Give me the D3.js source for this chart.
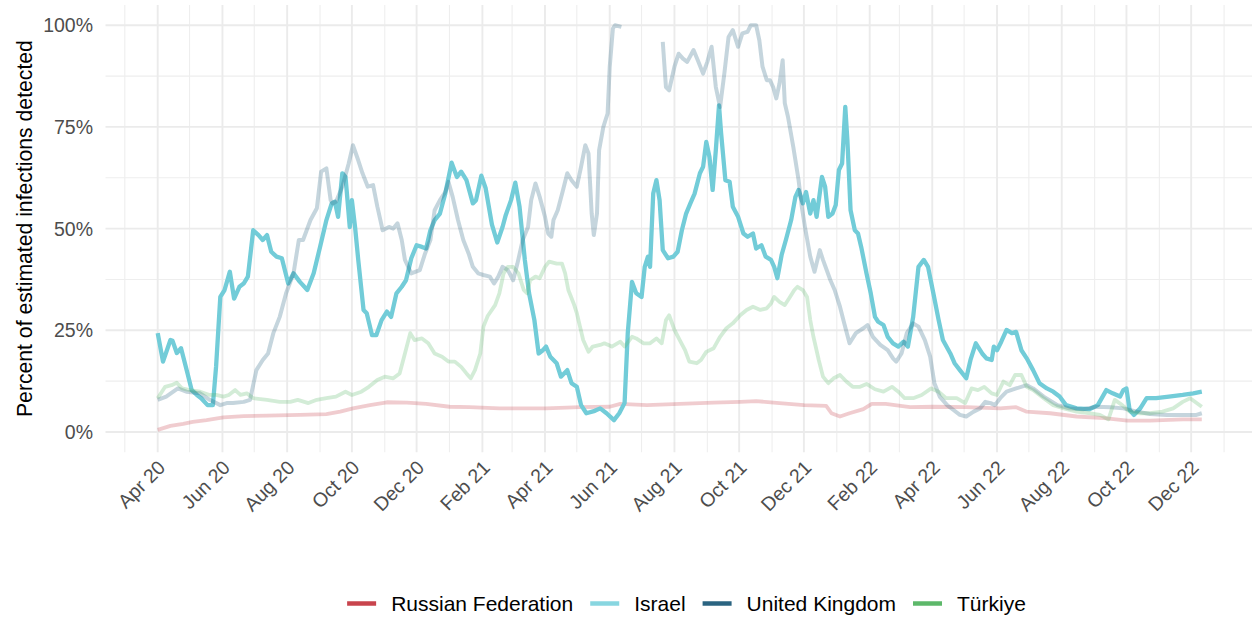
<!DOCTYPE html>
<html>
<head>
<meta charset="utf-8">
<script src="https://cdn.jsdelivr.net/npm/d3@7"></script>
<style>
  body { margin: 0; background: #fff; }
  svg { display: block; font-family: "Liberation Sans", Arial, Helvetica, sans-serif; }
</style>
</head>
<body>
<svg width="1252" height="617"></svg>
<script>
// percent of estimated infections detected
var russia = [
  ["2020-04-01",0.5],["2020-04-13",1.5],["2020-04-25",2],["2020-05-04",2.5],["2020-05-17",2.9],["2020-06-02",3.6],
  ["2020-06-21",3.9],["2020-07-13",4],["2020-08-13",4.2],["2020-09-07",4.4],["2020-09-20",5],["2020-10-02",5.8],
  ["2020-10-18",6.6],["2020-11-03",7.3],["2020-11-22",7.2],["2020-12-10",6.9],["2021-01-01",6.2],["2021-01-20",6.1],
  ["2021-02-17",5.8],["2021-03-03",5.8],["2021-04-02",5.8],["2021-05-04",6.1],["2021-06-01",6.2],["2021-06-11",6.9],
  ["2021-07-06",6.6],["2021-08-06",6.9],["2021-09-07",7.2],["2021-10-02",7.4],["2021-10-17",7.6],["2021-11-08",7.1],
  ["2021-12-01",6.6],["2021-12-22",6.4],["2021-12-27",4.6],["2022-01-04",3.8],["2022-01-13",4.6],["2022-01-26",5.6],
  ["2022-02-03",6.9],["2022-02-16",6.9],["2022-03-11",6.1],["2022-04-02",6.2],["2022-05-03",6.1],["2022-06-04",5.8],
  ["2022-06-19",6.1],["2022-06-29",5],["2022-07-21",4.6],["2022-08-15",3.8],["2022-09-10",3.4],["2022-10-02",2.8],
  ["2022-10-23",2.8],["2022-11-23",3.1],["2022-12-11",3.1]
];

var israel = [
  ["2020-04-01",24.3],["2020-04-06",17.3],["2020-04-13",22.6],["2020-04-15",22.4],["2020-04-19",19.4],["2020-04-23",20.6],
  ["2020-04-29",14.5],["2020-05-03",10.3],["2020-05-08",9.1],["2020-05-12",8.3],["2020-05-18",6.6],["2020-05-23",6.6],
  ["2020-05-26",16],["2020-05-30",33.2],["2020-06-03",34.9],["2020-06-08",39.4],["2020-06-12",32.8],["2020-06-17",35.7],
  ["2020-06-21",36.5],["2020-06-25",38.2],["2020-06-30",49.6],["2020-07-05",48.4],["2020-07-09",47.2],["2020-07-13",48.4],
  ["2020-07-17",44.3],["2020-07-22",43.1],["2020-07-27",42.7],["2020-08-02",36.5],["2020-08-07",39],["2020-08-13",36.9],
  ["2020-08-20",34.9],["2020-08-26",39],["2020-09-01",45.5],["2020-09-07",52.1],["2020-09-12",56.2],["2020-09-15",56.6],
  ["2020-09-18",52.9],["2020-09-22",63.6],["2020-09-25",62.7],["2020-09-29",50.4],["2020-10-01",57],["2020-10-04",50.4],
  ["2020-10-07",42.3],["2020-10-12",30],["2020-10-15",29.2],["2020-10-20",23.8],["2020-10-24",23.8],["2020-10-29",27.5],
  ["2020-11-03",29.6],["2020-11-07",28.3],["2020-11-12",34.1],["2020-11-17",35.7],["2020-11-21",37.3],["2020-11-26",42.7],
  ["2020-12-01",45.9],["2020-12-06",45.5],["2020-12-10",45.1],["2020-12-14",49.6],["2020-12-18",52.1],["2020-12-23",53.7],
  ["2020-12-28",58.6],["2021-01-03",66.2],["2021-01-08",62.7],["2021-01-12",64],["2021-01-17",61.9],["2021-01-23",56.2],
  ["2021-01-26",57],["2021-01-31",63],["2021-02-04",60],["2021-02-10",51],["2021-02-15",46.6],["2021-02-20",50.4],
  ["2021-02-23",53.3],["2021-02-28",57],["2021-03-04",61.3],["2021-03-08",55.4],["2021-03-13",42.3],["2021-03-17",34.1],
  ["2021-03-22",27.5],["2021-03-26",19.3],["2021-03-30",20.1],["2021-04-02",21],["2021-04-06",18.5],["2021-04-12",16.9],
  ["2021-04-16",13.6],["2021-04-22",15.2],["2021-04-26",12],["2021-05-01",11.1],["2021-05-05",6.6],["2021-05-10",4.6],
  ["2021-05-18",5.2],["2021-05-23",5.8],["2021-05-29",4.6],["2021-06-05",2.9],["2021-06-10",4.6],["2021-06-15",7.1],
  ["2021-06-18",24.3],["2021-06-22",36.9],["2021-06-26",34.1],["2021-07-01",33.2],["2021-07-04",40.6],["2021-07-07",43.1],
  ["2021-07-09",40.6],["2021-07-12",58.6],["2021-07-15",61.9],["2021-07-18",57],["2021-07-21",44.7],["2021-07-26",42.7],
  ["2021-07-31",43.1],["2021-08-04",44.3],["2021-08-08",49.6],["2021-08-12",53.7],["2021-08-16",56.2],["2021-08-20",58.6],
  ["2021-08-25",63.6],["2021-08-28",65.2],["2021-08-31",71.3],["2021-09-03",67.6],["2021-09-06",59.5],["2021-09-09",69.3],
  ["2021-09-12",80.3],["2021-09-14",73.4],["2021-09-18",61.9],["2021-09-22",61.5],["2021-09-25",55.4],["2021-09-30",52.9],
  ["2021-10-05",48.8],["2021-10-09",48],["2021-10-14",48.8],["2021-10-17",45.1],["2021-10-22",45.9],["2021-10-26",43.1],
  ["2021-10-31",42.3],["2021-11-03",40.6],["2021-11-06",37.8],["2021-11-10",43.5],["2021-11-14",47.2],["2021-11-19",52.1],
  ["2021-11-23",57.8],["2021-11-26",59.5],["2021-11-30",56.2],["2021-12-03",59],["2021-12-07",53.7],["2021-12-10",57],
  ["2021-12-13",52.9],["2021-12-18",62.7],["2021-12-21",60.3],["2021-12-24",52.9],["2021-12-28",53.7],["2021-12-31",55.8],
  ["2022-01-03",64.4],["2022-01-06",66],["2022-01-09",79.9],["2022-01-11",71.7],["2022-01-14",54.5],["2022-01-18",49.6],
  ["2022-01-21",48.8],["2022-01-24",45.5],["2022-01-29",39],["2022-02-02",34.1],["2022-02-06",28.3],["2022-02-09",27.1],
  ["2022-02-14",26.3],["2022-02-18",23.4],["2022-02-23",21.8],["2022-02-28",21],["2022-03-05",22.2],["2022-03-09",21],
  ["2022-03-14",28.3],["2022-03-19",40.6],["2022-03-24",42.3],["2022-03-28",40.6],["2022-04-02",34.1],["2022-04-07",27.5],
  ["2022-04-11",22.6],["2022-04-18",19.3],["2022-04-22",16.9],["2022-04-27",15.2],["2022-05-03",13.2],["2022-05-07",17.7],
  ["2022-05-12",21.8],["2022-05-18",19.3],["2022-05-22",18.1],["2022-05-27",17.7],["2022-05-29",21],["2022-06-01",20.1],
  ["2022-06-05",22.2],["2022-06-10",25.1],["2022-06-15",24.3],["2022-06-19",24.6],["2022-06-24",20.1],["2022-06-29",18.1],
  ["2022-07-05",15.2],["2022-07-11",12],["2022-07-18",10.7],["2022-07-24",9.9],["2022-07-30",8.7],["2022-08-05",6.6],
  ["2022-08-15",5.8],["2022-08-27",5.6],["2022-09-04",6.6],["2022-09-12",10.3],["2022-09-18",9.5],["2022-09-25",8.7],
  ["2022-09-28",10.3],["2022-10-01",10.7],["2022-10-04",5.4],["2022-10-08",4.2],["2022-10-14",5.8],["2022-10-20",8.3],
  ["2022-10-29",8.3],["2022-11-10",8.7],["2022-11-23",9.1],["2022-12-03",9.5],["2022-12-11",9.9]
];

// null = values above 100% dropped from the chart
var uk = [
  ["2020-04-01",7.9],["2020-04-09",8.7],["2020-04-20",10.7],["2020-04-28",9.9],["2020-05-11",9.5],["2020-05-20",7.9],
  ["2020-05-30",6.6],["2020-06-05",7.1],["2020-06-11",7.1],["2020-06-21",7.4],["2020-06-27",7.9],["2020-07-03",15.2],
  ["2020-07-09",17.7],["2020-07-14",19.3],["2020-07-19",24.3],["2020-07-25",28.3],["2020-07-31",34.1],["2020-08-07",39],
  ["2020-08-12",47.2],["2020-08-16",47.2],["2020-08-23",52.1],["2020-08-29",55],["2020-09-02",64],["2020-09-07",64.8],
  ["2020-09-11",57],["2020-09-13",56.2],["2020-09-16",56.6],["2020-09-22",60.3],["2020-09-28",66],["2020-10-02",70.5],
  ["2020-10-07",66.8],["2020-10-11",63.6],["2020-10-16",60.3],["2020-10-21",60.7],["2020-10-25",55.4],["2020-10-30",49.6],
  ["2020-11-05",50.4],["2020-11-09",50],["2020-11-13",51.3],["2020-11-17",47.2],["2020-11-20",42.3],["2020-11-26",39],
  ["2020-12-04",39.8],["2020-12-09",43.9],["2020-12-14",47.2],["2020-12-18",54.5],["2020-12-23",57],["2020-12-28",59],
  ["2020-12-31",61.5],["2021-01-04",57.8],["2021-01-09",52.1],["2021-01-14",47.2],["2021-01-19",43.9],["2021-01-23",40.6],
  ["2021-01-28",39],["2021-02-02",38.6],["2021-02-08",38.2],["2021-02-12",36.5],["2021-02-16",38.2],["2021-02-20",40.6],
  ["2021-02-25",39.8],["2021-03-02",37.3],["2021-03-06",41.4],["2021-03-11",47.2],["2021-03-16",50.4],["2021-03-19",57],
  ["2021-03-23",61.1],["2021-03-27",57.8],["2021-04-01",52.9],["2021-04-04",48.8],["2021-04-07",48],["2021-04-09",52.1],
  ["2021-04-13",54.5],["2021-04-18",59.5],["2021-04-22",63.6],["2021-04-26",61.9],["2021-05-01",60.3],["2021-05-05",65.2],
  ["2021-05-09",70.5],["2021-05-12",68.5],["2021-05-15",53.7],["2021-05-17",48.4],["2021-05-20",53.7],["2021-05-22",69.3],
  ["2021-05-26",75],["2021-05-30",78.3],["2021-06-01",89.8],["2021-06-04",99.2],["2021-06-06",100],["2021-06-12",99.6],
  ["2021-06-13",null],["2021-07-21",95.9],["2021-07-24",84.8],["2021-07-27",84],["2021-08-01",89.8],["2021-08-05",93],
  ["2021-08-09",91.8],["2021-08-13",91],["2021-08-19",93.9],["2021-08-23",91.4],["2021-08-28",88.1],["2021-09-01",91],
  ["2021-09-05",94.7],["2021-09-09",84.8],["2021-09-13",79.9],["2021-09-17",88.1],["2021-09-21",97.1],["2021-09-25",98.8],
  ["2021-09-30",94.7],["2021-10-04",98],["2021-10-09",98.4],["2021-10-12",100],["2021-10-17",100],["2021-10-20",96.3],
  ["2021-10-23",89.8],["2021-10-27",86.5],["2021-10-30",86.5],["2021-11-02",84.8],["2021-11-05",82],["2021-11-08",85.7],
  ["2021-11-11",91.4],["2021-11-13",80.8],["2021-11-16",77.5],["2021-11-21",70.1],["2021-11-26",61.9],["2021-11-29",55.4],
  ["2021-12-02",50.4],["2021-12-07",43.1],["2021-12-11",39.4],["2021-12-16",44.7],["2021-12-19",42.3],["2021-12-26",37.3],
  ["2021-12-30",34.9],["2022-01-04",30.8],["2022-01-08",26.7],["2022-01-13",21.8],["2022-01-19",24.3],["2022-01-26",25.5],
  ["2022-01-30",26.3],["2022-02-04",23.4],["2022-02-11",21.4],["2022-02-18",20.1],["2022-02-23",18.1],["2022-02-26",17.3],
  ["2022-03-03",19.3],["2022-03-08",24.3],["2022-03-14",26.7],["2022-03-19",25.9],["2022-03-25",22.6],["2022-03-30",18.5],
  ["2022-04-03",12],["2022-04-08",8.7],["2022-04-15",6.6],["2022-04-21",5.4],["2022-04-27",4.2],["2022-05-03",3.8],
  ["2022-05-10",5],["2022-05-16",5.8],["2022-05-21",7.4],["2022-05-26",7.1],["2022-05-30",6.6],["2022-06-04",8.3],
  ["2022-06-10",9.9],["2022-06-19",10.7],["2022-06-29",11.5],["2022-07-05",10.7],["2022-07-15",8.7],["2022-07-28",6.6],
  ["2022-08-08",5.8],["2022-08-21",5.6],["2022-09-03",6.2],["2022-09-16",6.1],["2022-09-28",5.8],["2022-10-11",5],
  ["2022-10-23",4.4],["2022-11-08",4.2],["2022-11-23",4.2],["2022-12-06",4.2],["2022-12-11",4.6]
];

var turkey = [
  ["2020-04-01",8.3],["2020-04-08",11.1],["2020-04-14",11.5],["2020-04-19",12.1],["2020-04-24",10.7],["2020-05-01",10.3],
  ["2020-05-11",9.9],["2020-05-20",9.1],["2020-05-26",9.1],["2020-06-02",8.7],["2020-06-07",9.1],["2020-06-13",10.3],
  ["2020-06-18",9.1],["2020-06-24",9.5],["2020-06-30",8.3],["2020-07-13",7.9],["2020-07-25",7.4],["2020-08-04",7.4],
  ["2020-08-11",7.9],["2020-08-21",7.1],["2020-08-29",7.9],["2020-09-07",8.3],["2020-09-16",8.7],["2020-09-25",9.9],
  ["2020-10-01",9.1],["2020-10-10",9.9],["2020-10-17",11.1],["2020-10-25",12.8],["2020-11-01",13.6],["2020-11-09",13.2],
  ["2020-11-15",14.4],["2020-11-20",19.3],["2020-11-25",24.3],["2020-11-29",22.6],["2020-12-06",23],["2020-12-12",21.8],
  ["2020-12-18",19.3],["2020-12-25",18.5],["2020-12-31",17.3],["2021-01-06",17.3],["2021-01-12",16],["2021-01-17",14.4],
  ["2021-01-21",13.2],["2021-01-25",15.2],["2021-01-30",19.3],["2021-02-02",25.9],["2021-02-06",28.5],["2021-02-13",31.2],
  ["2021-02-17",34.1],["2021-02-21",39],["2021-02-25",40.6],["2021-03-02",40.6],["2021-03-07",39],["2021-03-12",34.9],
  ["2021-03-15",34.1],["2021-03-18",37.3],["2021-03-23",38.2],["2021-03-27",37.8],["2021-04-01",40.6],["2021-04-05",41.9],
  ["2021-04-12",41.4],["2021-04-17",41.4],["2021-04-20",39],["2021-04-23",34.9],["2021-04-28",31.6],["2021-05-01",29.2],
  ["2021-05-04",25.9],["2021-05-07",22.6],["2021-05-12",19.7],["2021-05-16",21],["2021-05-23",21.4],["2021-05-27",21.8],
  ["2021-06-03",21],["2021-06-11",22.2],["2021-06-15",21],["2021-06-22",23.4],["2021-06-26",23],["2021-07-03",21.8],
  ["2021-07-09",21.8],["2021-07-15",23],["2021-07-20",21.8],["2021-07-24",27.5],["2021-07-27",28.7],["2021-08-01",25.1],
  ["2021-08-06",22.6],["2021-08-11",20.1],["2021-08-15",17.3],["2021-08-22",16.9],["2021-08-26",17.7],["2021-08-31",19.7],
  ["2021-09-07",20.6],["2021-09-13",23.4],["2021-09-19",25.5],["2021-09-25",26.7],["2021-10-02",28.7],["2021-10-08",30],
  ["2021-10-14",30.8],["2021-10-21",30],["2021-10-27",30.4],["2021-10-31",31.6],["2021-11-03",33.2],["2021-11-08",32],
  ["2021-11-13",31.2],["2021-11-17",32.8],["2021-11-22",34.9],["2021-11-25",35.7],["2021-11-30",34.9],["2021-12-04",33.2],
  ["2021-12-07",27.5],["2021-12-10",23.4],["2021-12-15",17.7],["2021-12-19",13.6],["2021-12-24",12],["2021-12-29",13.2],
  ["2022-01-04",14],["2022-01-10",12.4],["2022-01-16",11.1],["2022-01-23",11.1],["2022-01-29",11.8],["2022-02-06",10.5],
  ["2022-02-14",9.9],["2022-02-22",11.1],["2022-02-28",9.9],["2022-03-06",8.3],["2022-03-14",8.3],["2022-03-22",9.1],
  ["2022-03-31",10.7],["2022-04-07",9.9],["2022-04-14",8.3],["2022-04-24",8.3],["2022-05-02",7.1],["2022-05-08",10.7],
  ["2022-05-14",10.3],["2022-05-20",11.1],["2022-05-27",9.5],["2022-06-01",9.1],["2022-06-07",12.4],["2022-06-13",11.5],
  ["2022-06-18",14],["2022-06-24",14],["2022-06-29",11.1],["2022-07-05",10.3],["2022-07-15",8.3],["2022-07-24",6.6],
  ["2022-08-03",5.8],["2022-08-15",5],["2022-08-28",4.6],["2022-09-06",4.2],["2022-09-14",3.1],["2022-09-20",7.9],
  ["2022-09-27",6.6],["2022-10-04",5],["2022-10-14",4.6],["2022-10-23",4.6],["2022-11-04",5],["2022-11-14",5.8],
  ["2022-11-23",7.4],["2022-11-30",8.3],["2022-12-11",6.2]
];

var seriesNames = ["Russian Federation", "Israel", "United Kingdom", "Türkiye"];
var seriesData = [russia, israel, uk, turkey];
var keyColors = ["#C8444D", "#88D6E0", "#2B6481", "#5DB86A"];

var yTicks = [0, 25, 50, 75, 100];
var yMinor = [12.5, 37.5, 62.5, 87.5];
var xTicks = ["2020-04-01","2020-06-01","2020-08-01","2020-10-01","2020-12-01","2021-02-01","2021-04-01",
              "2021-06-01","2021-08-01","2021-10-01","2021-12-01","2022-02-01","2022-04-01","2022-06-01",
              "2022-08-01","2022-10-01","2022-12-01"];

var svg = d3.select("svg"),
    width = +svg.attr("width"),
    height = +svg.attr("height");

var parse = d3.utcParse("%Y-%m-%d");
var fmtX = d3.utcFormat("%b %y");

var panel = {left: 105.5, right: 1254, top: 4.9, bottom: 452.3};

var d0 = parse("2020-04-01"), d1 = parse("2022-12-11"),
    span = d1 - d0;

var x = d3.scaleUtc()
    .domain([new Date(+d0 - 0.05 * span), new Date(+d1 + 0.05 * span)])
    .range([panel.left, panel.right]);

var y = d3.scaleLinear()
    .domain([-5, 105])
    .range([panel.bottom, panel.top]);

// grid
var grid = svg.append("g");
var months = d3.utcMonth.range(x.domain()[0], x.domain()[1]);

grid.selectAll(".vminor")
  .data(months.filter(function(d) { return d.getUTCMonth() % 2 === 0; }))
  .enter().append("line")
    .attr("x1", function(d) { return x(d); }).attr("x2", function(d) { return x(d); })
    .attr("y1", panel.top).attr("y2", panel.bottom)
    .attr("stroke", "#EEEEEE").attr("stroke-width", 1.1);

grid.selectAll(".hminor")
  .data(yMinor)
  .enter().append("line")
    .attr("x1", panel.left).attr("x2", panel.right)
    .attr("y1", function(d) { return y(d); }).attr("y2", function(d) { return y(d); })
    .attr("stroke", "#EEEEEE").attr("stroke-width", 1.1);

grid.selectAll(".vmajor")
  .data(xTicks)
  .enter().append("line")
    .attr("x1", function(d) { return x(parse(d)); }).attr("x2", function(d) { return x(parse(d)); })
    .attr("y1", panel.top).attr("y2", panel.bottom)
    .attr("stroke", "#EBEBEB").attr("stroke-width", 1.9);

grid.selectAll(".hmajor")
  .data(yTicks)
  .enter().append("line")
    .attr("x1", panel.left).attr("x2", panel.right)
    .attr("y1", function(d) { return y(d); }).attr("y2", function(d) { return y(d); })
    .attr("stroke", "#EBEBEB").attr("stroke-width", 1.9);

// lines
svg.append("clipPath").attr("id", "clip")
  .append("rect")
    .attr("x", panel.left).attr("y", panel.top)
    .attr("width", panel.right - panel.left).attr("height", panel.bottom - panel.top);

var line = d3.line()
    .defined(function(d) { return d[1] !== null; })
    .x(function(d) { return x(parse(d[0])); })
    .y(function(d) { return y(d[1]); });

var lineStyle = [
  {color: "#C8434C", opacity: 0.27, width: 3.8},
  {color: "#72CCD8", opacity: 1, width: 4.3},
  {color: "#2A6481", opacity: 0.27, width: 4},
  {color: "#5DB86A", opacity: 0.27, width: 3.8}
];

svg.append("g").attr("clip-path", "url(#clip)")
  .selectAll("path")
  .data(seriesData)
  .enter().append("path")
    .attr("d", line)
    .attr("fill", "none")
    .attr("stroke", function(d, i) { return lineStyle[i].color; })
    .attr("stroke-opacity", function(d, i) { return lineStyle[i].opacity; })
    .attr("stroke-width", function(d, i) { return lineStyle[i].width; })
    .attr("stroke-linejoin", "round");

// axes
svg.append("g").selectAll("text")
  .data(yTicks)
  .enter().append("text")
    .attr("x", 93)
    .attr("y", function(d) { return y(d); })
    .attr("dy", "0.36em")
    .attr("text-anchor", "end")
    .attr("fill", "#4D4D4D")
    .style("font-size", "19.5px")
    .text(function(d) { return d + "%"; });

svg.append("g").selectAll("text")
  .data(xTicks)
  .enter().append("text")
    .attr("transform", function(d) { return "translate(" + (x(parse(d)) - 1) + ",459) rotate(-45)"; })
    .attr("dy", "0.71em")
    .attr("text-anchor", "end")
    .attr("fill", "#4D4D4D")
    .style("font-size", "19.5px")
    .text(function(d) { return fmtX(parse(d)); });

svg.append("text")
    .attr("transform", "translate(31.5," + ((panel.top + panel.bottom) / 2) + ") rotate(-90)")
    .attr("text-anchor", "middle")
    .attr("fill", "#000")
    .style("font-size", "21.2px")
    .text("Percent of estimated infections detected");

// legend
var legend = svg.append("g");
var lx = 0;
seriesNames.forEach(function(name, i) {
  var g = legend.append("g");
  g.append("line")
    .attr("x1", 0).attr("x2", 29).attr("y1", 0).attr("y2", 0)
    .attr("stroke", keyColors[i]).attr("stroke-width", 4.5);
  var t = g.append("text")
    .attr("x", 44).attr("dy", "0.36em")
    .attr("fill", "#000")
    .style("font-size", "21px")
    .text(name);
  g.attr("transform", "translate(" + lx + ",0)");
  lx += 44 + t.node().getComputedTextLength() + 17;
});
var legendW = lx - 17;
legend.attr("transform", "translate(" + (686.5 - legendW / 2) + ",603.5)");
</script>
</body>
</html>
